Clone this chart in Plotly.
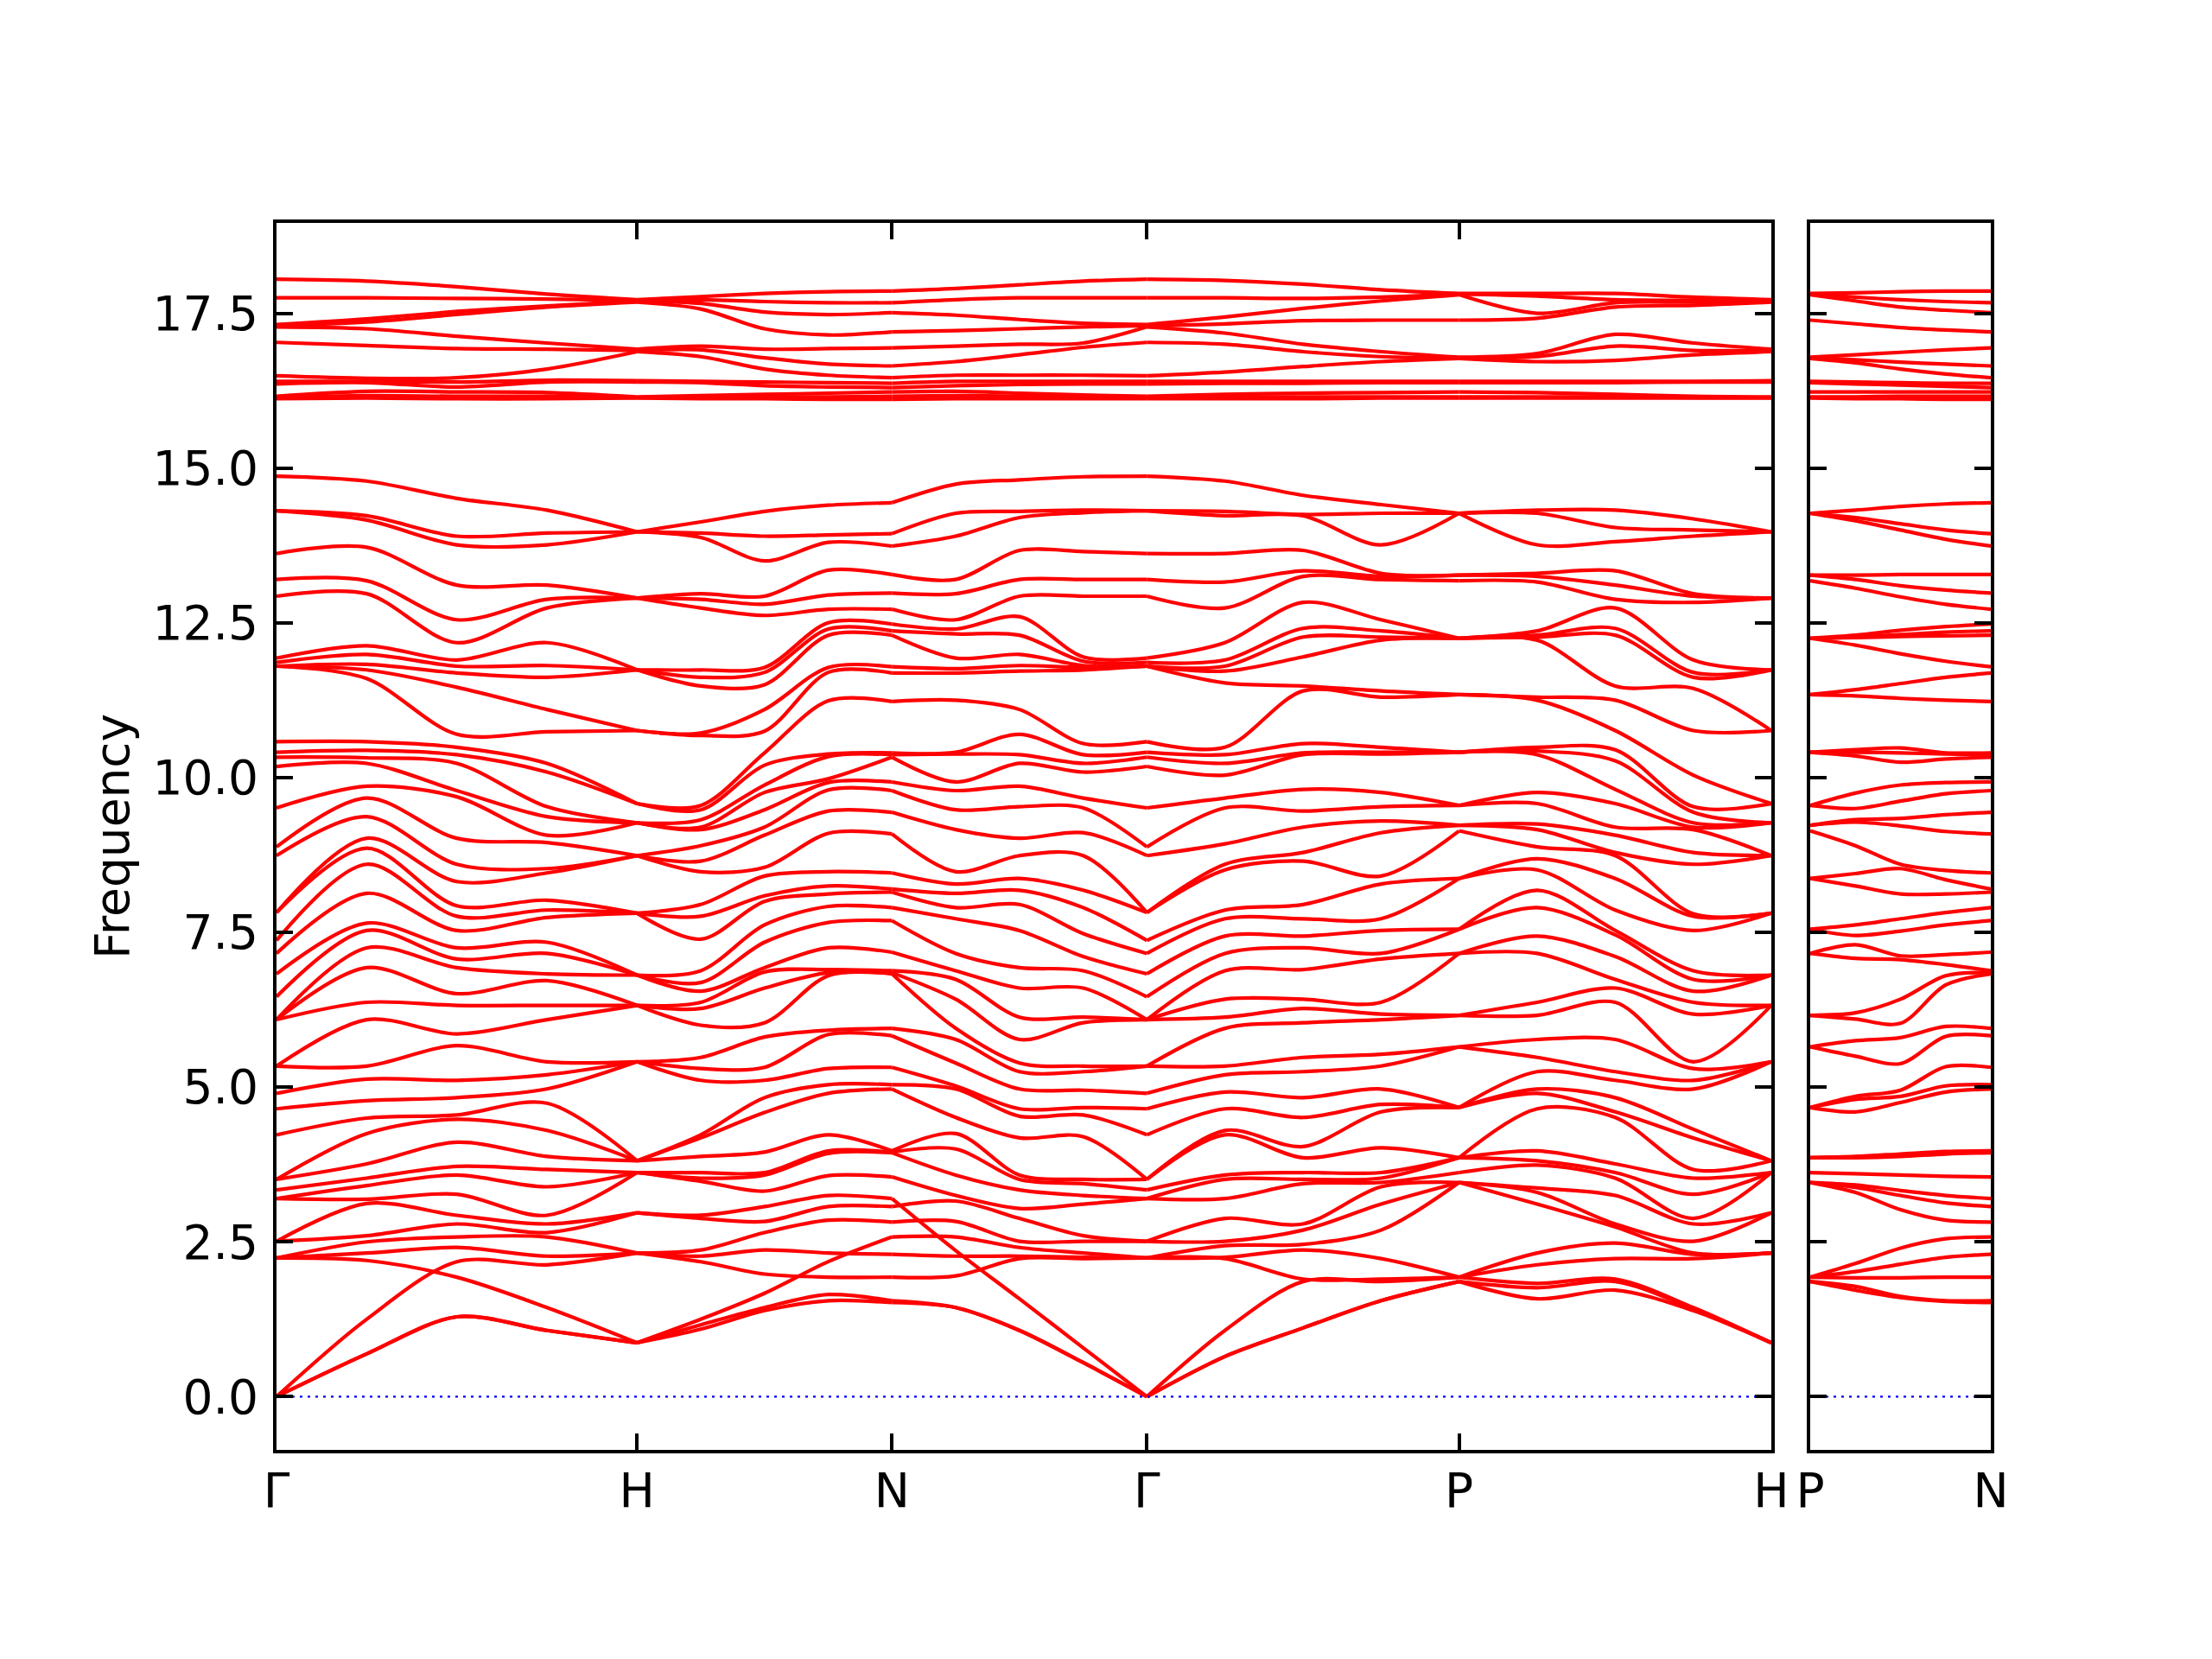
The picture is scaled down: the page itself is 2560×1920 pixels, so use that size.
import plotly.graph_objects as go

# ---------------- k-path (BCC) ----------------
path_labels = ["Γ", "H", "N", "Γ", "P", "H"]
seg_lengths = [1.0, 0.7071, 0.7071, 0.8660, 0.8660]   # Γ-H, H-N, N-Γ, Γ-P, P-H
path2_labels = ["P", "N"]
seg2_lengths = [0.5]                                   # P-N
sample_frac = [0.0, 0.25, 0.5, 0.75, 1.0]
freq_ticks = [0.0, 2.5, 5.0, 7.5, 10.0, 12.5, 15.0, 17.5]
freq_ticktext = ["0.0", "2.5", "5.0", "7.5", "10.0", "12.5", "15.0", "17.5"]

# ---------------- frequencies read at sampled q-points (lower 45 bands) ----------------
G_lo = [0, 0, 0, 2.24, 2.24, 2.24, 2.51, 2.51, 3.20, 3.20, 3.34, 3.51, 3.51, 4.23, 4.65, 4.90,
        5.34, 5.34, 6.09, 6.09, 6.09, 6.46, 6.83, 7.16, 7.37, 7.82, 7.82, 8.74, 8.88, 9.51,
        10.18, 10.33, 10.41, 10.58, 11.80, 11.80, 11.80, 11.86, 11.93, 12.93, 13.20, 13.62, 14.31, 14.31, 14.87]
GH1_lo = [0.69, 0.69, 1.25, 2.20, 2.32, 2.50, 2.60, 3.12, 3.19, 3.41, 3.53, 3.76, 4.25, 4.50, 4.78,
          5.13, 5.34, 6.09, 6.37, 6.93, 7.25, 7.53, 7.65, 8.13, 8.60, 8.86, 9.02, 9.37, 9.67, 9.86,
          10.23, 10.32, 10.44, 10.58, 11.60, 11.74, 11.83, 11.99, 12.13, 12.97, 13.18, 13.72, 14.16, 14.23, 14.79]
GH2_lo = [1.29, 1.29, 1.93, 2.18, 2.41, 2.58, 2.79, 2.93, 3.27, 3.58, 3.72, 4.11, 4.48, 4.55, 4.83,
          5.11, 5.67, 5.86, 6.32, 6.51, 6.93, 7.07, 7.25, 7.53, 7.76, 7.93, 8.32, 8.60, 9.02, 9.69, 9.79,
          10.23, 10.37, 10.49, 10.70, 11.46, 11.69, 11.80, 11.90, 12.18, 12.55, 13.11, 13.76, 13.90, 14.51]
GH3_lo = [1.07, 1.07, 1.44, 2.13, 2.27, 2.58, 2.65, 2.79, 2.93, 3.39, 3.67, 3.88, 4.30, 4.74, 4.97,
          5.20, 5.41, 6.09, 6.32, 6.72, 6.83, 7.16, 7.34, 7.74, 7.86, 8.02, 8.46, 8.53, 8.95, 9.07, 9.37, 9.53,
          10.09, 10.23, 10.74, 11.10, 11.62, 11.81, 12.18, 12.74, 12.88, 13.11, 13.76, 13.95, 14.32]
H_lo = [0.87, 0.87, 0.87, 2.32, 2.32, 2.32, 2.97, 2.97, 3.62, 3.62, 3.62, 3.81, 3.81, 3.81,
        5.41, 5.41, 5.41, 6.32, 6.32, 6.32, 6.81, 6.81, 6.81, 7.81, 7.81, 7.81, 8.74, 8.74, 8.74,
        9.27, 9.27, 9.27, 9.58, 9.58,
        10.76, 10.76, 11.74, 11.74, 11.74, 12.90, 12.90, 12.90, 13.97, 13.97, 13.97]
HN1_lo = [1.09, 1.16, 1.25, 2.18, 2.27, 2.37, 2.88, 2.93, 3.48, 3.53, 3.62, 3.88, 4.18, 4.23,
          5.11, 5.30, 5.48, 6.00, 6.27, 6.37, 6.55, 6.69, 6.88, 7.39, 7.76, 7.95, 8.48, 8.65, 8.90,
          9.16, 9.20, 9.32, 9.48, 9.55,
          10.68, 10.72, 11.48, 11.62, 11.74, 12.74, 12.88, 12.97, 13.88, 13.95, 14.13]
HN2_lo = [1.39, 1.44, 1.67, 1.98, 2.37, 2.65, 2.83, 3.07, 3.32, 3.58, 3.62, 3.95, 4.59, 4.83,
          5.11, 5.32, 5.81, 6.04, 6.60, 6.86, 6.93, 7.34, 7.62, 8.00, 8.09, 8.41, 8.55, 9.07, 9.20, 9.48, 9.76, 9.88,
          10.20, 10.40, 10.75, 11.10, 11.50, 11.70, 11.78, 12.62, 12.80, 12.93, 13.50, 13.90, 14.30]
HN3_lo = [1.55, 1.65, 1.93, 2.18, 2.32, 2.85, 3.07, 3.25, 3.57, 3.93, 3.97, 4.23, 4.90,
          5.04, 5.30, 5.85, 5.92, 6.80, 6.85, 6.90, 7.25, 7.66, 7.92, 8.12, 8.25, 8.48, 9.10, 9.46, 9.80, 9.92, 9.98,
          10.34, 10.38, 11.24, 11.70, 11.78, 12.30, 12.40, 12.50, 12.72, 12.95, 13.35, 13.80, 13.92, 14.40]
N_lo = [1.52, 1.55, 1.93, 2.30, 2.58, 2.82, 3.07, 3.20, 3.55, 3.94, 3.95, 3.97, 4.97,
        5.04, 5.32, 5.83, 5.95, 6.83, 6.85, 6.88, 7.18, 7.69, 7.90, 8.15, 8.20, 8.46, 9.09, 9.44, 9.79, 9.93,
        10.33, 10.37, 10.40, 11.23, 11.69, 11.79, 12.30, 12.37, 12.48, 12.72, 12.98, 13.28, 13.74, 13.94, 14.44]
NG1_lo = [1.44, 1.44, 1.95, 2.27, 2.36, 2.58, 2.83, 3.16, 3.25, 3.58, 4.00, 4.25, 4.51, 4.97,
          5.02, 5.39, 5.77, 5.95, 6.42, 6.74, 6.88, 7.16, 7.72, 7.90, 8.13, 8.28, 8.48, 9.16, 9.48, 9.79, 9.93,
          10.38, 10.41, 11.25, 11.69, 11.76, 11.93, 12.32, 12.40, 12.55, 12.97, 13.20, 13.90, 14.27, 14.74]
NG2_lo = [1.07, 1.07, 1.58, 2.23, 2.27, 2.41, 2.51, 2.88, 3.04, 3.34, 3.51, 3.58, 4.18, 4.53, 4.65, 4.97,
          5.25, 5.39, 5.77, 6.13, 6.60, 6.93, 7.53, 7.95, 8.18, 8.37, 8.74, 9.02, 9.53, 9.86,
          10.23, 10.37, 10.70, 11.10, 11.72, 11.81, 11.99, 12.30, 12.60, 12.93, 13.20, 13.67, 14.20, 14.30, 14.81]
NG3_lo = [0.55, 0.55, 0.79, 2.23, 2.25, 2.32, 2.51, 2.60, 3.11, 3.25, 3.44, 3.51, 4.20, 4.55, 4.67, 4.95,
          5.25, 5.34, 6.04, 6.13, 6.60, 6.88, 7.11, 7.48, 7.90, 8.18, 8.74, 9.11, 9.51, 9.67,
          10.09, 10.23, 10.37, 10.55, 11.74, 11.78, 11.81, 11.88, 11.95, 12.93, 13.20, 13.65, 14.28, 14.32, 14.86]
GP1_lo = [0.65, 0.65, 1.07, 2.23, 2.25, 2.44, 2.51, 2.88, 3.20, 3.51, 3.58, 4.23, 4.30, 4.65, 4.92,
          5.20, 5.34, 5.95, 6.13, 6.42, 6.88, 7.16, 7.44, 7.72, 7.86, 8.51, 8.60, 8.93, 9.51, 9.67,
          10.04, 10.23, 10.37, 10.49, 11.53, 11.72, 11.80, 11.90, 12.18, 12.74, 13.16, 13.62, 14.23, 14.30, 14.79]
GP2_lo = [1.11, 1.11, 1.86, 1.90, 2.37, 2.46, 2.69, 2.79, 3.44, 3.51, 3.62, 3.86, 4.04, 4.51, 4.83,
          5.25, 5.48, 6.04, 6.27, 6.42, 6.90, 7.25, 7.44, 7.72, 7.95, 8.65, 8.79, 9.20, 9.46, 9.81,
          10.37, 10.40, 10.55, 11.40, 11.48, 11.95, 12.27, 12.41, 12.83, 13.25, 13.34, 13.67, 14.23, 14.25, 14.56]
GP3_lo = [1.55, 1.55, 1.86, 1.90, 2.23, 2.69, 3.11, 3.39, 3.46, 3.53, 3.62, 4.02, 4.60, 4.72, 4.97,
          5.34, 5.53, 6.09, 6.18, 6.37, 7.07, 7.16, 7.53, 7.72, 8.28, 8.41, 9.11, 9.30, 9.53, 9.76,
          10.38, 10.41, 10.49, 11.30, 11.40, 12.22, 12.27, 12.37, 12.55, 13.20, 13.25, 13.30, 13.76, 14.27, 14.41]
P_lo = [1.86, 1.86, 1.93, 1.93, 1.93, 3.46, 3.46, 3.46, 3.62, 3.86, 3.86, 3.86, 4.67, 4.67, 4.67,
        5.65, 5.65, 6.16, 6.16, 7.16, 7.16, 7.55, 7.55, 8.37, 8.37, 9.14, 9.23, 9.23, 9.55, 9.55,
        10.41, 10.41, 10.41, 11.34, 11.34, 12.25, 12.25, 12.25, 12.25, 13.18, 13.27, 13.27, 14.27, 14.27, 14.27]
PH1_lo = [1.58, 1.76, 1.83, 2.13, 2.32, 3.11, 3.30, 3.37, 3.74, 3.81, 3.97, 4.65, 4.90, 4.97,
          5.25, 5.48, 5.77, 6.16, 6.37, 7.16, 7.44, 7.90, 8.18, 8.51, 8.69, 8.88, 9.16, 9.25, 9.58, 9.76,
          10.37, 10.43, 10.49, 11.25, 11.30, 12.22, 12.27, 12.30, 12.37, 13.16, 13.25, 13.30, 13.76, 14.27, 14.32]
PH2_lo = [1.72, 1.86, 1.90, 2.23, 2.48, 2.74, 2.79, 3.25, 3.53, 3.62, 3.76, 4.51, 4.60, 4.83,
          5.11, 5.25, 5.77, 6.37, 6.60, 6.74, 7.11, 7.46, 7.53, 7.86, 8.37, 8.74, 8.79, 9.07, 9.20, 9.58, 9.81,
          10.27, 10.45, 10.76, 11.25, 11.48, 12.30, 12.41, 12.74, 12.88, 13.11, 13.34, 13.81, 14.04, 14.32]
PH3_lo = [1.39, 1.42, 1.44, 2.23, 2.30, 2.32, 2.51, 2.79, 2.88, 3.27, 3.53, 3.67, 4.18, 4.32, 4.97,
          5.11, 5.30, 5.41, 6.18, 6.37, 6.55, 6.74, 6.88, 7.53, 7.76, 7.80, 8.60, 8.79, 9.16, 9.20, 9.27, 9.44, 9.53,
          10.04, 10.76, 11.44, 11.62, 11.70, 11.90, 12.83, 12.93, 12.97, 13.90, 14.00, 14.18]
PN1_lo = [1.72, 1.78, 1.92, 2.02, 2.15, 3.30, 3.38, 3.42, 3.60, 3.86, 3.87, 3.88, 4.60, 4.80, 4.85,
          5.50, 5.75, 6.10, 6.20, 7.08, 7.30, 7.45, 7.62, 8.25, 8.45, 8.90, 9.28, 9.32, 9.50, 9.75,
          10.35, 10.41, 10.45, 11.32, 11.42, 12.14, 12.26, 12.27, 12.30, 13.06, 13.20, 13.27, 14.15, 14.20, 14.32]
PN2_lo = [1.60, 1.62, 1.92, 2.14, 2.40, 3.02, 3.25, 3.33, 3.58, 3.88, 3.90, 3.92, 4.75, 4.85, 4.95,
          5.38, 5.80, 6.03, 6.42, 7.06, 7.12, 7.52, 7.72, 8.12, 8.53, 8.60, 9.22, 9.34, 9.62, 9.88,
          10.25, 10.40, 10.48, 11.28, 11.52, 12.00, 12.28, 12.31, 12.38, 12.92, 13.10, 13.28, 14.00, 14.10, 14.38]
PN3_lo = [1.54, 1.55, 1.93, 2.25, 2.55, 2.85, 3.13, 3.25, 3.56, 3.92, 3.94, 3.96, 4.92,
          5.02, 5.33, 5.82, 5.98, 6.65, 6.80, 6.98, 7.14, 7.62, 7.82, 8.12, 8.35, 8.50, 9.13, 9.40, 9.74, 9.92,
          10.30, 10.38, 10.40, 11.25, 11.62, 11.88, 12.29, 12.35, 12.44, 12.80, 13.03, 13.28, 13.85, 14.00, 14.42]

# ---------------- upper 12 bands (16-18) ----------------
G_hi = [16.12, 16.14, 16.16, 16.36, 16.40, 16.49, 17.03, 17.28, 17.30, 17.32, 17.75, 18.05]
GH1_hi = [16.13, 16.17, 16.24, 16.38, 16.40, 16.45, 16.98, 17.25, 17.36, 17.41, 17.75, 18.02]
GH2_hi = [16.12, 16.16, 16.23, 16.31, 16.39, 16.46, 16.93, 17.13, 17.48, 17.53, 17.74, 17.93]
GH3_hi = [16.12, 16.16, 16.22, 16.39, 16.42, 16.60, 16.92, 17.02, 17.60, 17.62, 17.73, 17.81]
H_hi = [16.13, 16.14, 16.15, 16.39, 16.41, 16.88, 16.90, 16.92, 17.68, 17.70, 17.71, 17.72]
HN1_hi = [16.12, 16.15, 16.17, 16.38, 16.40, 16.80, 16.91, 16.97, 17.57, 17.66, 17.72, 17.77]
HN2_hi = [16.12, 16.15, 16.19, 16.33, 16.39, 16.60, 16.78, 16.92, 17.25, 17.52, 17.69, 17.82]
HN3_hi = [16.11, 16.15, 16.21, 16.31, 16.38, 16.50, 16.68, 16.93, 17.15, 17.48, 17.67, 17.85]
N_hi = [16.11, 16.16, 16.23, 16.30, 16.37, 16.46, 16.65, 16.94, 17.20, 17.51, 17.67, 17.86]
NG1_hi = [16.12, 16.17, 16.24, 16.33, 16.40, 16.50, 16.72, 16.97, 17.22, 17.47, 17.72, 17.90]
NG2_hi = [16.12, 16.16, 16.21, 16.35, 16.40, 16.50, 16.83, 17.00, 17.25, 17.40, 17.75, 17.96]
NG3_hi = [16.12, 16.15, 16.18, 16.36, 16.40, 16.50, 16.95, 17.02, 17.28, 17.34, 17.75, 18.02]
GP1_hi = [16.12, 16.15, 16.19, 16.37, 16.40, 16.55, 17.00, 17.18, 17.33, 17.44, 17.75, 18.03]
GP2_hi = [16.12, 16.15, 16.21, 16.37, 16.40, 16.64, 16.88, 17.00, 17.38, 17.58, 17.74, 17.97]
GP3_hi = [16.13, 16.15, 16.22, 16.38, 16.40, 16.72, 16.80, 16.88, 17.39, 17.70, 17.76, 17.88]
P_hi = [16.13, 16.15, 16.23, 16.38, 16.40, 16.77, 16.78, 16.79, 17.39, 17.80, 17.81, 17.82]
PH1_hi = [16.13, 16.15, 16.22, 16.38, 16.40, 16.72, 16.80, 16.85, 17.42, 17.50, 17.78, 17.82]
PH2_hi = [16.13, 16.15, 16.19, 16.38, 16.40, 16.74, 16.97, 17.16, 17.60, 17.67, 17.72, 17.82]
PH3_hi = [16.13, 16.14, 16.16, 16.39, 16.40, 16.83, 16.90, 17.02, 17.63, 17.68, 17.71, 17.76]
PN1_hi = [16.12, 16.15, 16.23, 16.36, 16.39, 16.70, 16.75, 16.83, 17.33, 17.70, 17.76, 17.83]
PN2_hi = [16.12, 16.16, 16.23, 16.34, 16.38, 16.60, 16.71, 16.87, 17.27, 17.60, 17.72, 17.85]
PN3_hi = [16.11, 16.16, 16.23, 16.32, 16.37, 16.52, 16.68, 16.91, 17.23, 17.55, 17.69, 17.86]

# ---------------- branches that visibly cross others (values at the 5 samples of a segment) ----------------
LA_GH = [0.0, 1.25, 2.18, 2.13, 2.32]      # Γ-H longitudinal acoustic
RISE_HN = [0.87, 1.25, 1.67, 2.18, 2.58]   # H-N rising branch
LA_NG = [3.20, 2.36, 1.58, 0.79, 0.0]      # N-Γ longitudinal acoustic
tracked_main = {0: [LA_GH], 1: [RISE_HN], 2: [LA_NG]}

# ---------------- assemble columns along the paths ----------------
main_cols = [
    G_lo + G_hi, GH1_lo + GH1_hi, GH2_lo + GH2_hi, GH3_lo + GH3_hi, H_lo + H_hi,
    HN1_lo + HN1_hi, HN2_lo + HN2_hi, HN3_lo + HN3_hi, N_lo + N_hi,
    NG1_lo + NG1_hi, NG2_lo + NG2_hi, NG3_lo + NG3_hi, G_lo + G_hi,
    GP1_lo + GP1_hi, GP2_lo + GP2_hi, GP3_lo + GP3_hi, P_lo + P_hi,
    PH1_lo + PH1_hi, PH2_lo + PH2_hi, PH3_lo + PH3_hi, H_lo + H_hi,
]
p2_cols = [P_lo + P_hi, PN1_lo + PN1_hi, PN2_lo + PN2_hi, PN3_lo + PN3_hi, N_lo + N_hi]


def path_positions(lengths):
    ticks = [0.0]
    for L in lengths:
        ticks.append(ticks[-1] + L)
    return ticks


def without(col, vals):
    out = list(col)
    for v in vals:
        j = min(range(len(out)), key=lambda i: abs(out[i] - v))
        out.pop(j)
    return sorted(out)


main_ticks = path_positions(seg_lengths)
p2_ticks = path_positions(seg2_lengths)
npt = len(sample_frac)


def segment_xy(cols, ticks, lengths, s, tracked):
    x0, L = ticks[s], lengths[s]
    xs_seg = [x0 + f * L for f in sample_frac]
    pool = []
    for k in range(npt):
        col = cols[s * (npt - 1) + k]
        pool.append(without(col, [t[k] for t in tracked]))
    nb = min(len(c) for c in pool)
    xs, ys = [], []
    for b in range(nb):
        xs += xs_seg + [None]
        ys += [pool[k][b] for k in range(npt)] + [None]
    for t in tracked:
        xs += xs_seg + [None]
        ys += list(t) + [None]
    return xs, ys


RED = "#ff0000"
LW = 4.2
fig = go.Figure()

for s in range(len(seg_lengths)):
    x, y = segment_xy(main_cols, main_ticks, seg_lengths, s, tracked_main.get(s, []))
    fig.add_trace(go.Scatter(x=x, y=y, mode="lines", xaxis="x", yaxis="y",
                             line=dict(color=RED, width=LW, shape="spline", smoothing=0.9),
                             connectgaps=False, hoverinfo="skip", showlegend=False))
for s in range(len(seg2_lengths)):
    x, y = segment_xy(p2_cols, p2_ticks, seg2_lengths, s, [])
    fig.add_trace(go.Scatter(x=x, y=y, mode="lines", xaxis="x2", yaxis="y2",
                             line=dict(color=RED, width=LW, shape="spline", smoothing=0.9),
                             connectgaps=False, hoverinfo="skip", showlegend=False))

# zero-frequency reference line
fig.add_trace(go.Scatter(x=[main_ticks[0], main_ticks[-1]], y=[0, 0], mode="lines", xaxis="x", yaxis="y",
                         line=dict(color="blue", width=2.2, dash="3px,6px"), hoverinfo="skip", showlegend=False))
fig.add_trace(go.Scatter(x=[p2_ticks[0], p2_ticks[-1]], y=[0, 0], mode="lines", xaxis="x2", yaxis="y2",
                         line=dict(color="blue", width=2.2, dash="3px,6px"), hoverinfo="skip", showlegend=False))

# page body adds an 8 px offset; figure is sized so the plot area lands at x 320-2304, y 258-1678
W, Hh = 2552, 1912
ml, mr, mt, mb = 312, 256, 250, 242
pw = W - ml - mr
main_right = (2050 - 320) / pw
p2_left = (2095 - 320) / pw
yr = [-0.86, 18.96]

axis_style = dict(showline=True, linecolor="black", linewidth=4, mirror="allticks",
                  ticks="inside", ticklen=19, tickwidth=4, tickcolor="black",
                  showgrid=False, zeroline=False, automargin=False,
                  tickfont=dict(family="DejaVu Sans", size=55, color="black"))

fig.update_layout(
    width=W, height=Hh,
    margin=dict(l=ml, r=mr, t=mt, b=mb),
    paper_bgcolor="white", plot_bgcolor="white",
    showlegend=False,
    font=dict(family="DejaVu Sans", size=55, color="black"),
    xaxis=dict(domain=[0, main_right], range=[main_ticks[0], main_ticks[-1]],
               tickmode="array", tickvals=main_ticks, ticktext=path_labels, anchor="y",
               ticklabelstandoff=-4, **axis_style),
    xaxis2=dict(domain=[p2_left, 1.0], range=[p2_ticks[0], p2_ticks[-1]],
                tickmode="array", tickvals=p2_ticks, ticktext=path2_labels, anchor="y2",
                ticklabelstandoff=-4, **axis_style),
    yaxis=dict(domain=[0, 1], range=yr, tickmode="array", tickvals=freq_ticks, ticktext=freq_ticktext,
               anchor="x", ticklabelstandoff=6, **axis_style),
    yaxis2=dict(domain=[0, 1], range=yr, tickmode="array", tickvals=freq_ticks, showticklabels=False,
                anchor="x2", **axis_style),
    annotations=[dict(text="Frequency", xref="paper", yref="paper", x=-(320 - 130) / pw, y=0.5,
                      xanchor="center", yanchor="middle", textangle=-90, showarrow=False,
                      font=dict(family="DejaVu Sans", size=55, color="black"))],
)

fig.write_html("out.html")
